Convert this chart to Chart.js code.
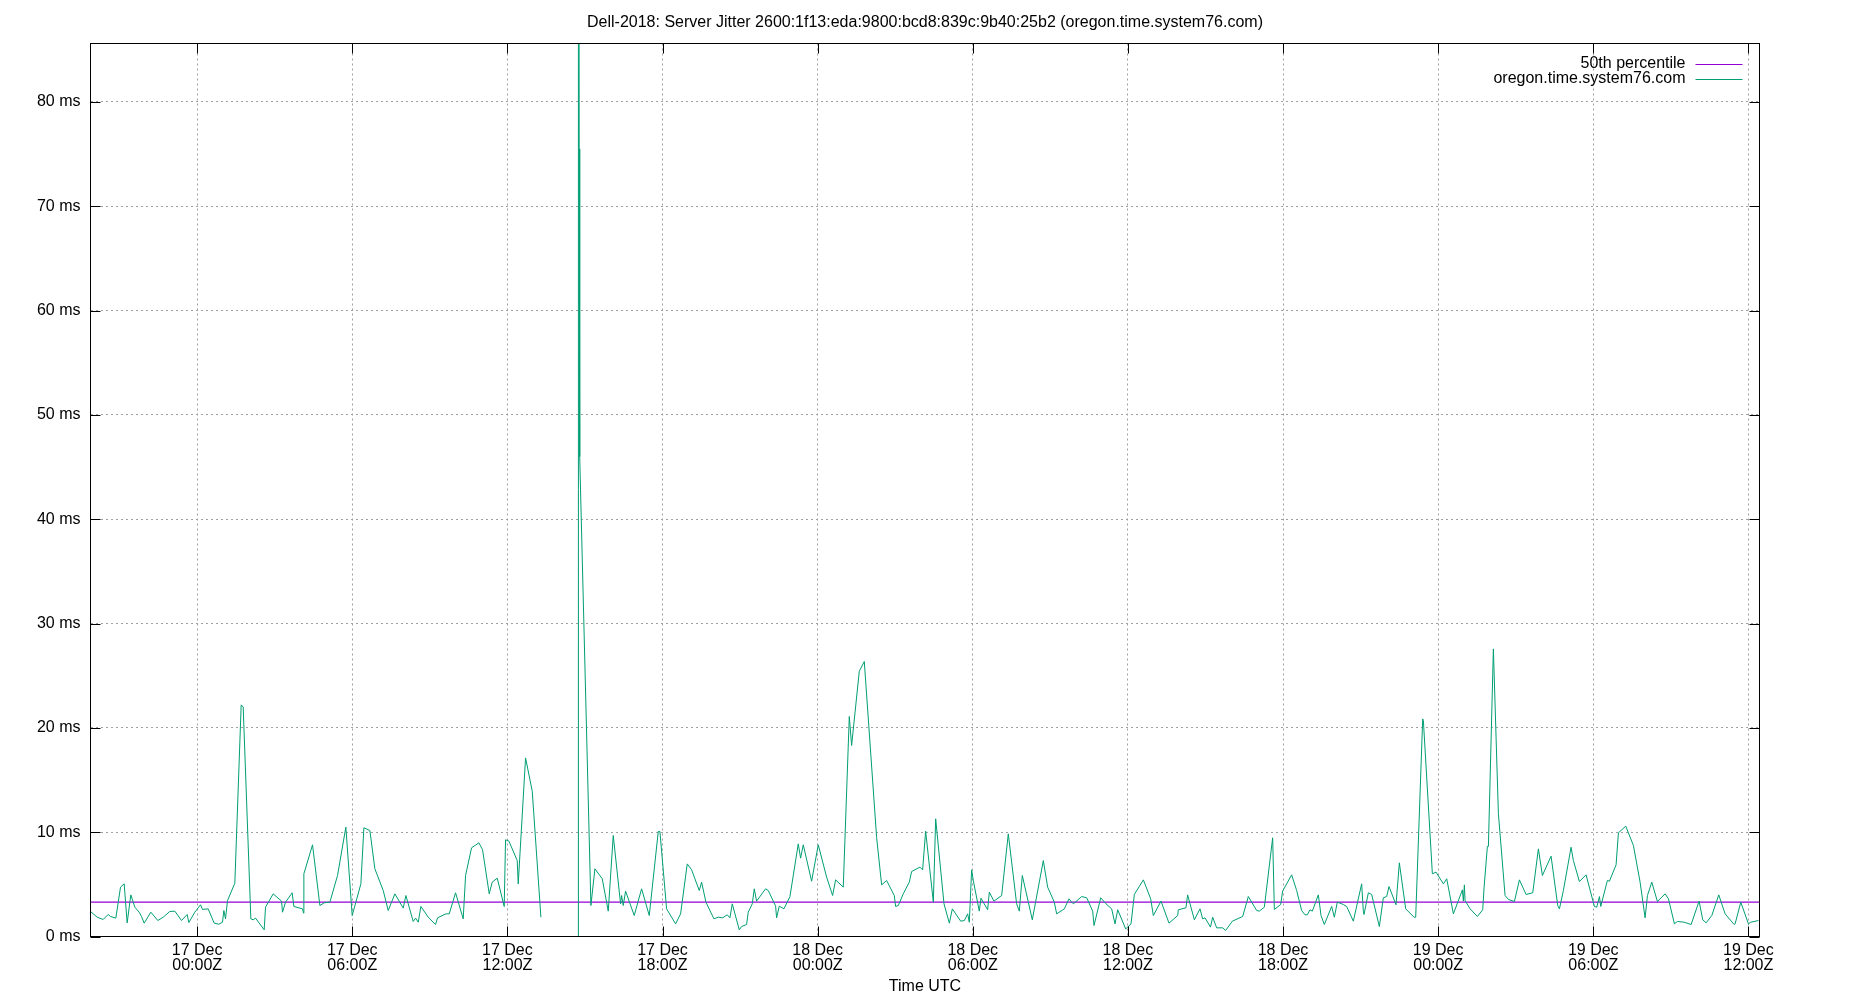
<!DOCTYPE html>
<html>
<head>
<meta charset="utf-8">
<title>Server Jitter</title>
<script src="https://cdn.jsdelivr.net/npm/chart.js@4.4.1/dist/chart.umd.min.js"></script>
<style>
  html, body { margin: 0; padding: 0; background: #fff; }
  #jitter { display: block; }
</style>
</head>
<body>
<canvas id="jitter" width="1850" height="1000"></canvas>
<script>
// hours relative to 17 Dec 00:00Z
const jitterHours = [
  -4.125, -3.867, -3.635, -3.442, -3.351, -3.145, -2.964, -2.823, -2.707, -2.565,
  -2.410, -2.243, -2.152, -2.049, -1.791, -1.520, -1.314, -1.056, -0.863, -0.605,
  -0.386, -0.321, -0.089, 0.130, 0.208, 0.427, 0.659, 0.839, 0.981, 1.033,
  1.097, 1.175, 1.458, 1.703, 1.781, 2.077, 2.168, 2.258, 2.593, 2.645,
  2.941, 3.264, 3.302, 3.418, 3.676, 3.741, 4.076, 4.115, 4.128, 4.463,
  4.747, 4.914, 5.133, 5.430, 5.752, 5.997, 6.333, 6.449, 6.681, 6.874,
  7.197, 7.390, 7.648, 7.970, 8.074, 8.357, 8.448, 8.551, 8.654, 8.937,
  9.221, 9.299, 9.621, 9.750, 9.995, 10.291, 10.382, 10.614, 10.898, 11.040,
  11.297, 11.413, 11.607, 11.877, 11.929, 12.058, 12.380, 12.419, 12.703, 12.961,
  13.296, 14.0, 14.739, 14.747, 14.778, 14.797, 15.230, 15.385, 15.669, 15.901,
  16.094, 16.378, 16.417, 16.481, 16.571, 16.906, 17.191, 17.487, 17.835, 17.900,
  18.158, 18.506, 18.699, 18.957, 19.125, 19.421, 19.512, 19.679, 19.989, 20.156,
  20.324, 20.504, 20.607, 20.698, 20.968, 21.059, 21.252, 21.316, 21.471, 21.549,
  21.639, 21.987, 22.090, 22.374, 22.413, 22.516, 22.696, 22.929, 23.250, 23.341,
  23.444, 23.767, 24.024, 24.347, 24.579, 24.695, 24.991, 25.224, 25.314, 25.611,
  25.804, 26.281, 26.475, 26.668, 26.964, 27.016, 27.119, 27.312, 27.545, 27.635,
  27.957, 28.061, 28.177, 28.475, 28.565, 28.888, 29.094, 29.210, 29.533, 29.674,
  29.802, 29.866, 29.957, 30.020, 30.252, 30.317, 30.575, 30.640, 30.820, 31.117,
  31.374, 31.697, 31.800, 31.916, 32.303, 32.729, 32.897, 33.154, 33.245, 33.541,
  33.722, 33.890, 34.212, 34.406, 34.638, 34.690, 34.948, 35.154, 35.373, 35.502,
  35.606, 35.915, 36.121, 36.250, 36.598, 36.882, 36.984, 37.281, 37.590, 37.926,
  37.951, 38.246, 38.310, 38.571, 38.790, 38.892, 38.982, 39.195, 39.279, 39.434,
  39.666, 39.782, 40.040, 40.440, 40.659, 40.981, 41.084, 41.278, 41.600, 41.665,
  41.910, 41.986, 42.334, 42.528, 42.721, 42.850, 42.940, 43.044, 43.134, 43.366,
  43.470, 43.598, 43.882, 43.985, 44.101, 44.333, 44.462, 44.720, 45.042, 45.107,
  45.133, 45.300, 45.429, 45.726, 45.880, 46.010, 46.100, 46.371, 46.500, 46.745,
  47.068, 47.132, 47.403, 47.429, 47.777, 47.919, 48.203, 48.332, 48.590, 48.938,
  48.976, 49.015, 49.041, 49.235, 49.518, 49.725, 49.776, 49.905, 49.944, 50.137,
  50.331, 50.589, 50.718, 50.950, 51.143, 51.401, 51.659, 51.878, 52.033, 52.368,
  52.626, 52.691, 52.845, 53.142, 53.232, 53.464, 53.722, 54.044, 54.135, 54.238,
  54.290, 54.547, 54.625, 54.883, 54.973, 55.257, 55.554, 55.812, 56.005, 56.096,
  56.263, 56.482, 56.779, 56.908, 57.140, 57.256, 57.514, 57.785, 58.094, 58.236,
  58.365, 58.585, 58.855, 59.100, 59.448, 59.486, 59.706, 60.002, 60.093, 60.388
];

// jitter in ms (null = gap in the data)
const jitterMs = [
  2.40, 1.85, 1.63, 2.11, 1.92, 1.76, 4.73, 5.05, 1.31, 3.99,
  2.81, 2.33, 1.92, 1.28, 2.33, 1.53, 1.85, 2.40, 2.43, 1.53,
  2.11, 1.34, 2.33, 3.04, 2.59, 2.65, 1.28, 1.18, 1.37, 2.49,
  1.69, 3.45, 5.11, 22.2, 22.0, 1.69, 1.60, 1.76, 0.64, 2.81,
  4.09, 3.39, 2.33, 3.29, 4.19, 2.88, 2.65, 2.24, 6.01, 8.79,
  2.97, 3.23, 3.29, 5.85, 10.48, 2.01, 5.05, 10.42, 10.16, 6.49,
  4.41, 2.49, 4.09, 2.72, 3.93, 1.44, 1.76, 1.37, 2.88, 1.85,
  1.15, 1.79, 2.17, 2.17, 4.19, 1.69, 5.85, 8.50, 8.98, 8.31,
  4.09, 5.21, 5.59, 2.88, 9.27, 9.14, 7.28, 5.05, 17.12, 13.93,
  1.85, null, 0.0, 150, 75.5, 46, 2.97, 6.49, 5.53, 2.43,
  9.68, 3.13, 3.93, 2.97, 4.35, 2.01, 4.57, 2.01, 10.06, 10.06,
  2.65, 1.21, 2.17, 6.96, 6.39, 4.41, 5.21, 3.29, 1.69, 1.85,
  1.79, 2.08, 1.79, 3.13, 0.64, 0.96, 1.15, 2.33, 3.13, 4.57,
  3.39, 4.57, 4.41, 2.91, 1.79, 2.91, 2.65, 3.83, 8.88, 7.51,
  8.79, 5.30, 8.79, 5.69, 3.93, 5.43, 4.73, 21.09, 18.31, 25.43,
  26.36, 9.5, 4.95, 5.37, 3.93, 2.88, 2.97, 4.09, 5.21, 6.23,
  6.65, 6.39, 10.10, 3.29, 11.28, 3.13, 1.28, 2.65, 1.47, 1.53,
  2.17, 1.37, 6.39, 5.37, 2.43, 3.67, 2.56, 4.25, 3.39, 3.93,
  9.84, 3.13, 2.43, 5.85, 1.60, 7.28, 4.73, 3.29, 2.17, 2.65,
  3.61, 3.13, 3.83, 3.71, 2.43, 1.05, 3.71, 3.13, 2.65, 1.21,
  2.56, 0.73, 1.21, 4.03, 5.43, 3.61, 2.01, 3.39, 1.28, 2.01,
  2.56, 2.75, 3.99, 1.60, 2.65, 1.69, 1.79, 0.9, 1.85, 0.83,
  0.83, 0.58, 1.47, 1.92, 3.83, 2.49, 2.43, 2.81, 9.46, 2.59,
  3.07, 4.35, 5.91, 4.41, 2.49, 2.08, 2.08, 2.56, 2.43, 3.99,
  2.01, 1.15, 2.88, 1.85, 3.29, 3.07, 2.88, 1.47, 5.05, 2.43,
  2.11, 4.19, 4.03, 0.96, 3.71, 3.83, 4.79, 3.04, 7.06, 2.65,
  1.85, 1.85, 20.86, 20.70, 6.01, 6.17, 5.05, 5.53, 2.17, 4.47,
  3.39, 4.95, 3.45, 2.65, 1.92, 2.56, 4.66, 8.63, 8.63, 27.57,
  11.76, 3.93, 3.55, 3.35, 5.43, 4.03, 4.19, 8.40, 5.85, 7.70,
  2.97, 2.65, 4.41, 8.56, 7.28, 5.27, 5.91, 2.88, 2.81, 3.83,
  2.88, 5.37, 5.30, 6.87, 9.94, 10.58, 8.72, 5.21, 1.79, 3.93,
  5.21, 3.35, 4.09, 3.61, 1.21, 1.44, 1.37, 1.15, 3.39, 1.60,
  1.31, 2.01, 3.99, 2.17, 1.15, 1.21, 3.29, 1.21, 1.37, 1.53
];

const percentile50 = 3.3;
const hourMin = -4.125;
const hourMax = 60.43;
const msMax = 85.6;

const xTickHours = [0, 6, 12, 18, 24, 30, 36, 42, 48, 54, 60];
const xTickLabels = [
  ['17 Dec', '00:00Z'], ['17 Dec', '06:00Z'], ['17 Dec', '12:00Z'], ['17 Dec', '18:00Z'],
  ['18 Dec', '00:00Z'], ['18 Dec', '06:00Z'], ['18 Dec', '12:00Z'], ['18 Dec', '18:00Z'],
  ['19 Dec', '00:00Z'], ['19 Dec', '06:00Z'], ['19 Dec', '12:00Z']
];
const yTickValues = [0, 10, 20, 30, 40, 50, 60, 70, 80];
const yTickLabels = ['0 ms', '10 ms', '20 ms', '30 ms', '40 ms', '50 ms', '60 ms', '70 ms', '80 ms'];

const seriesNames = ['50th percentile', 'oregon.time.system76.com'];
const seriesColors = ['#9400d3', '#009e73'];

const FONT = "'Liberation Sans', Arial, sans-serif";
Chart.defaults.font.family = FONT;
Chart.defaults.font.size = 16;
Chart.defaults.color = '#000';

// gnuplot style frame: border, inward ticks on all sides, key in top right
const gnuplotFrame = {
  id: 'gnuplotFrame',
  afterDraw(chart) {
    const { ctx, chartArea: a, scales: { x, y } } = chart;
    ctx.save();
    ctx.strokeStyle = '#000';
    ctx.lineWidth = 1;
    ctx.beginPath();
    x.ticks.forEach(t => {
      const px = Math.round(x.getPixelForValue(t.value)) + 0.5;
      ctx.moveTo(px, a.bottom); ctx.lineTo(px, a.bottom - 10);
      ctx.moveTo(px, a.top); ctx.lineTo(px, a.top + 10);
    });
    y.ticks.forEach(t => {
      const py = Math.round(y.getPixelForValue(t.value)) + 0.5;
      ctx.moveTo(a.left, py); ctx.lineTo(a.left + 10, py);
      ctx.moveTo(a.right, py); ctx.lineTo(a.right - 10, py);
    });
    ctx.stroke();
    ctx.strokeRect(a.left, a.top, a.right - a.left, a.bottom - a.top);

    ctx.font = '16px ' + FONT;
    ctx.textAlign = 'right';
    ctx.textBaseline = 'middle';
    seriesNames.forEach((name, i) => {
      const ly = a.top + 20 + i * 15;
      ctx.fillStyle = '#000';
      ctx.fillText(name, a.right - 74, ly);
      ctx.strokeStyle = seriesColors[i];
      ctx.beginPath();
      ctx.moveTo(a.right - 64, Math.round(ly) + 0.5);
      ctx.lineTo(a.right - 17, Math.round(ly) + 0.5);
      ctx.stroke();
    });
    ctx.restore();
  }
};

new Chart(document.getElementById('jitter'), {
  type: 'line',
  data: {
    datasets: [
      {
        label: seriesNames[1],
        data: jitterHours.map((h, i) => ({ x: h, y: jitterMs[i] })),
        borderColor: seriesColors[1],
        borderWidth: 1,
        pointRadius: 0,
        tension: 0,
        spanGaps: false,
        order: 0
      },
      {
        label: seriesNames[0],
        data: [{ x: hourMin, y: percentile50 }, { x: hourMax, y: percentile50 }],
        borderColor: seriesColors[0],
        borderWidth: 1.2,
        pointRadius: 0,
        order: 1
      }
    ]
  },
  options: {
    responsive: false,
    animation: false,
    devicePixelRatio: 1,
    layout: { padding: { left: 0, right: 90.5, top: 0, bottom: 0 } },
    plugins: {
      legend: { display: false },
      tooltip: { enabled: false },
      title: {
        display: true,
        fullSize: false,
        text: 'Dell-2018: Server Jitter 2600:1f13:eda:9800:bcd8:839c:9b40:25b2 (oregon.time.system76.com)',
        font: { size: 16, weight: 'normal' },
        padding: { top: 12.8, bottom: 11.5 }
      }
    },
    scales: {
      x: {
        type: 'linear',
        min: hourMin,
        max: hourMax,
        afterBuildTicks: s => { s.ticks = xTickHours.map(v => ({ value: v })); },
        afterFit: s => { s.height = 63.5; },
        ticks: {
          autoSkip: false,
          maxRotation: 0,
          padding: 6.6,
          font: { size: 16, lineHeight: 0.92 },
          callback: v => xTickLabels[xTickHours.indexOf(v)]
        },
        grid: { color: '#a0a0a0', lineWidth: 1, drawTicks: false },
        border: { display: false, dash: [2, 3] },
        title: { display: true, text: 'Time UTC', font: { size: 16 }, padding: { top: 0, bottom: 4 } }
      },
      y: {
        type: 'linear',
        min: 0,
        max: msMax,
        afterBuildTicks: s => { s.ticks = yTickValues.map(v => ({ value: v })); },
        afterFit: s => { s.width = 90.5; },
        ticks: {
          padding: 10,
          callback: v => yTickLabels[yTickValues.indexOf(v)]
        },
        grid: { color: '#a0a0a0', lineWidth: 1, drawTicks: false },
        border: { display: false, dash: [2, 3] }
      }
    }
  },
  plugins: [gnuplotFrame]
});
</script>
</body>
</html>
